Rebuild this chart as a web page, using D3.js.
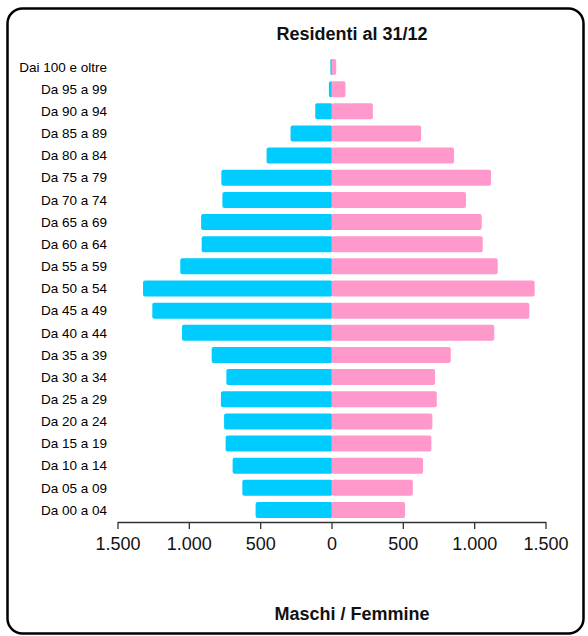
<!DOCTYPE html>
<html>
<head>
<meta charset="utf-8">
<script src="https://cdn.jsdelivr.net/npm/d3@7"></script>
<style>
  html, body { margin: 0; padding: 0; background: #fff; }
  svg { display: block; font-family: "Liberation Sans", Arial, sans-serif; }
</style>
</head>
<body>
<svg id="chart" width="588" height="636"></svg>
<script>
const categories = ["Da 00 a 04","Da 05 a 09","Da 10 a 14","Da 15 a 19","Da 20 a 24","Da 25 a 29","Da 30 a 34","Da 35 a 39","Da 40 a 44","Da 45 a 49","Da 50 a 54","Da 55 a 59","Da 60 a 64","Da 65 a 69","Da 70 a 74","Da 75 a 79","Da 80 a 84","Da 85 a 89","Da 90 a 94","Da 95 a 99","Dai 100 e oltre"];
const maschi  = [532, 625, 693, 742, 753, 775, 737, 840, 1048, 1256, 1321, 1060, 910, 914, 765, 772, 455, 287, 114, 18, 8];
const femmine = [516, 570, 642, 700, 707, 738, 726, 836, 1141, 1387, 1424, 1165, 1060, 1053, 943, 1118, 859, 628, 290, 98, 33];
const tickValues = [-1500, -1000, -500, 0, 500, 1000, 1500];
const title = "Residenti al 31/12";
const axisTitle = "Maschi / Femmine";

const svg = d3.select("#chart");

// frame
svg.append("rect")
  .attr("x", 7.5).attr("y", 8.5).attr("width", 576).attr("height", 625)
  .attr("rx", 15).attr("ry", 15)
  .attr("fill", "none").attr("stroke", "#000").attr("stroke-width", 2.5);

const x = d3.scaleLinear().domain([-1500, 1500]).range([117.5, 545.5]);
const y = d3.scalePoint().domain(categories.slice().reverse()).range([67, 510]);
const barH = 16;

const data = categories.map((c, i) => ({ cat: c, m: maschi[i], f: femmine[i] }));

const g = svg.append("g");
g.selectAll("rect.m").data(data).join("rect")
  .attr("class", "m")
  .attr("x", d => x(-d.m))
  .attr("y", d => y(d.cat) - barH / 2)
  .attr("width", d => x(0) - x(-d.m) + 1)
  .attr("height", barH)
  .attr("rx", 2)
  .attr("fill", "#00ccff");

g.selectAll("rect.f").data(data).join("rect")
  .attr("class", "f")
  .attr("x", x(0))
  .attr("y", d => y(d.cat) - barH / 2)
  .attr("width", d => x(d.f) - x(0))
  .attr("height", barH)
  .attr("rx", 2)
  .attr("fill", "#ff99cc");

// category labels
g.selectAll("text.lab").data(categories).join("text")
  .attr("class", "lab")
  .attr("x", 107)
  .attr("y", d => y(d))
  .attr("dy", "0.35em")
  .attr("text-anchor", "end")
  .attr("font-size", 13.5)
  .attr("fill", "#000")
  .text(d => d);

// x axis
const loc = d3.formatLocale({ decimal: ",", thousands: ".", grouping: [3], currency: ["€", ""] });
const fmt = loc.format(",d");
const axis = d3.axisBottom(x).tickValues(tickValues).tickSize(7).tickSizeOuter(0)
  .tickFormat(d => fmt(Math.abs(d)));
const ax = svg.append("g").attr("transform", "translate(0,522)").call(axis);
ax.select(".domain").attr("stroke", "#333").attr("stroke-width", 1.3);
ax.selectAll(".tick line").attr("stroke", "#333").attr("stroke-width", 1.3);
ax.selectAll(".tick text").attr("font-size", 18).attr("fill", "#111")
  .attr("font-family", "Liberation Sans, Arial, sans-serif").attr("y", 15);

// titles
svg.append("text").attr("x", 352).attr("y", 40).attr("text-anchor", "middle")
  .attr("font-size", 18).attr("font-weight", "bold").attr("fill", "#111").text(title);
svg.append("text").attr("x", 352).attr("y", 620).attr("text-anchor", "middle")
  .attr("font-size", 18).attr("font-weight", "bold").attr("fill", "#111").text(axisTitle);
</script>
</body>
</html>
